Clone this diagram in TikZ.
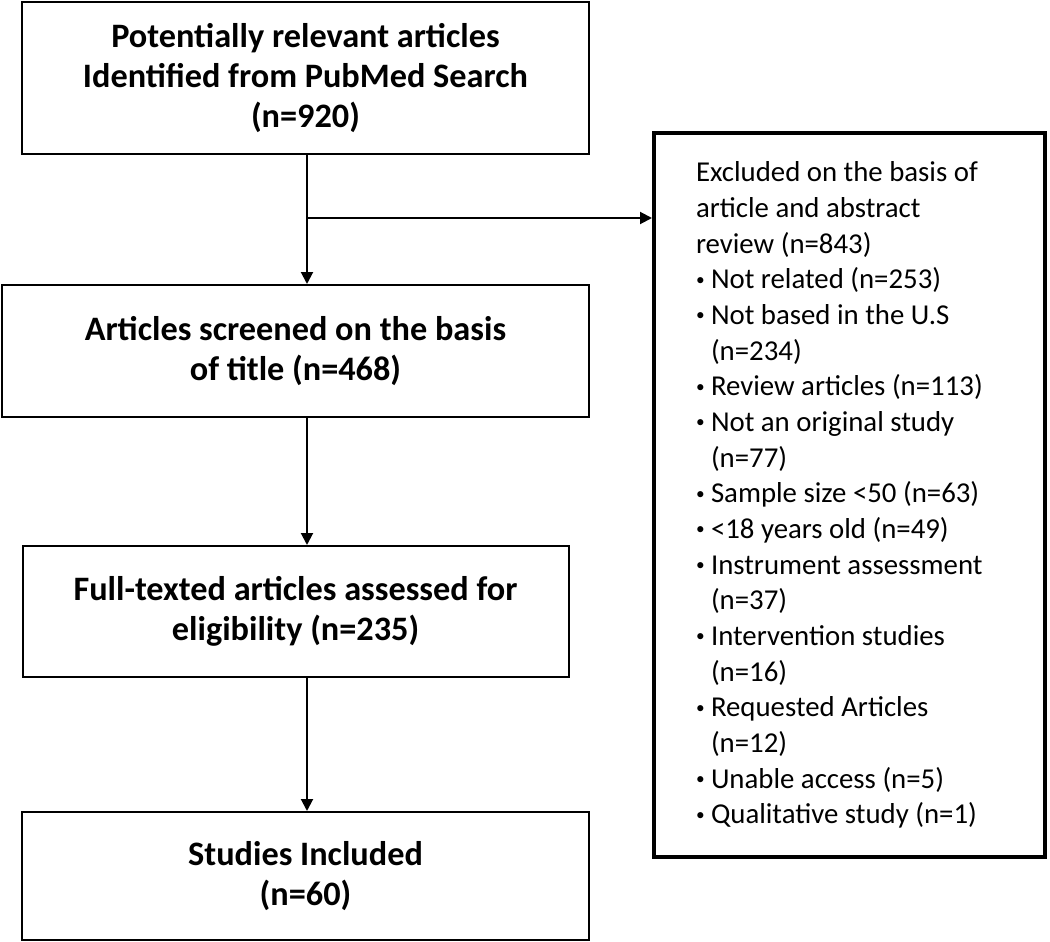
\documentclass[tikz,border=0pt]{standalone}
\usepackage{fontspec}
\setmainfont{Carlito}
\usetikzlibrary{arrows.meta, positioning}
\newcommand{\exbullet}{\makebox[11.25pt][l]{\raisebox{0.12em}{\fontsize{13}{13}\selectfont\textbullet}}}
\newcommand{\exindent}{\hspace*{11.25pt}}

\begin{document}
\begin{tikzpicture}[x=0.75pt, y=-0.75pt,
    stage/.style={rectangle, draw, line width=1.5pt, align=center,
                  font=\bfseries\fontsize{25.7}{30}\selectfont},
    exclbox/.style={rectangle, draw, line width=3pt, align=flush left,
                    text width=230.25pt, inner xsep=31.5pt,
                    font=\fontsize{21.6}{26.75}\selectfont},
    flow/.style={-{Triangle[length=9pt, width=9pt]}, line width=1.5pt}]

    \useasboundingbox (0,0) rectangle (1050,942);

    % Stages
    \node[stage, minimum width=425.25pt, minimum height=114pt] (search) at (305.5, 78)
        {Potentially relevant articles\\Identified from PubMed Search\\(n=920)};
    \node[stage, minimum width=440.25pt, minimum height=99pt] (title) at (295.5, 351)
        {Articles screened on the basis\\of title (n=468)};
    \node[stage, minimum width=409.5pt, minimum height=98.25pt] (fulltext) at (295.5, 611.5)
        {Full-texted articles assessed for\\eligibility (n=235)};
    \node[stage, minimum width=425.25pt, minimum height=96pt] (included) at (305.5, 876)
        {Studies Included\\(n=60)};

    % Exclusions
    \node[exclbox, minimum height=543pt] (excl) at (849.5, 495)
        {Excluded on the basis of\\
         article and abstract\\
         review (n=843)\\
         \exbullet Not related (n=253)\\
         \exbullet Not based in the U.S\\
         \exindent (n=234)\\
         \exbullet Review articles (n=113)\\
         \exbullet Not an original study\\
         \exindent (n=77)\\
         \exbullet Sample size <50 (n=63)\\
         \exbullet <18 years old (n=49)\\
         \exbullet Instrument assessment\\
         \exindent (n=37)\\
         \exbullet Intervention studies\\
         \exindent (n=16)\\
         \exbullet Requested Articles\\
         \exindent (n=12)\\
         \exbullet Unable access (n=5)\\
         \exbullet Qualitative study (n=1)};

    % Connections
    \coordinate (split) at (307, 218);
    \draw[flow] (search.south -| split) -- (title.north -| split);
    \draw[flow] (split) -- (split -| excl.west);
    \draw[flow] (title.south -| split) -- (fulltext.north -| split);
    \draw[flow] (fulltext.south -| split) -- (included.north -| split);
\end{tikzpicture}
\end{document}
